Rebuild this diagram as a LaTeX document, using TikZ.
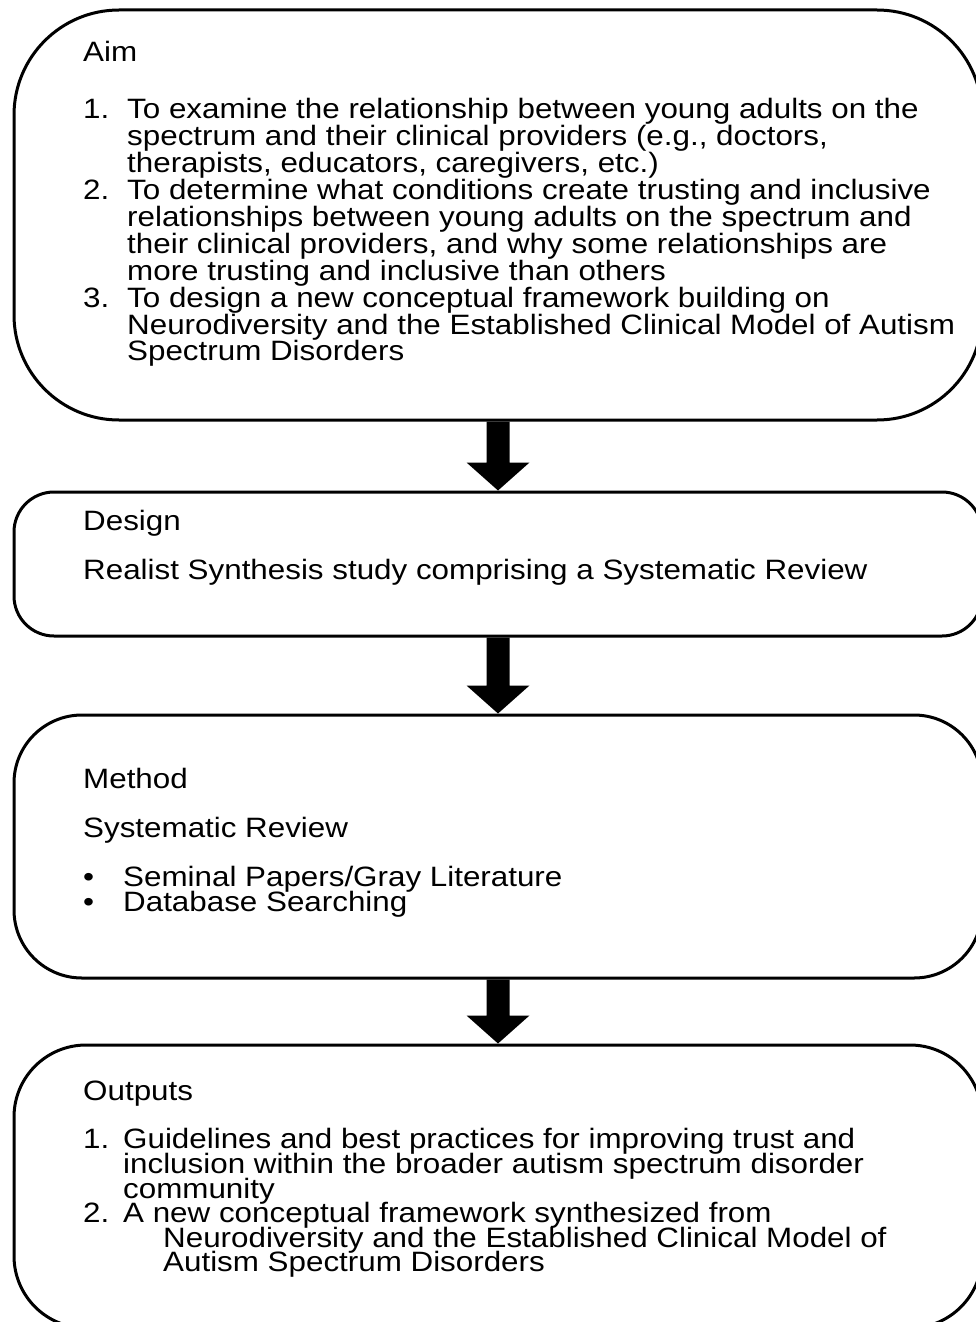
\documentclass[tikz,border=0pt]{standalone}
\usepackage{fontspec}
\setmainfont{Liberation Sans}[FakeStretch=1.12]
\usetikzlibrary{calc}
\begin{document}
\begin{tikzpicture}[x=1pt,y=-1pt,
  box/.style={draw=black, line width=3pt, minimum width=968pt, inner sep=0pt},
  txt/.style={anchor=base west, inner sep=0pt, font=\fontsize{28}{28}\selectfont},
  blockarrow/.style={fill=black}]
\useasboundingbox (0,0) rectangle (976,1322);
\clip (0,0) rectangle (976,1322);
\fill[white] (0,0) rectangle (976,1322);
% boxes
\node[box, rounded corners=105pt, minimum height=410pt] (b1) at (498,215) {};
\node[box, rounded corners=40pt, minimum height=144pt] (b2) at (498,564) {};
\node[box, rounded corners=68pt, minimum height=263pt] (b3) at (498,846.5) {};
\node[box, rounded corners=72pt, minimum height=283pt] (b4) at (498,1186.5) {};
% arrows
\foreach \a/\b in {b1/b2, b2/b3, b3/b4} {
  \fill[blockarrow] ($(\a.south)+(-11.5,0)$) -- ($(\b.north)+(-11.5,-28)$) -- ($(\b.north)+(-31.5,-28)$) -- (\b.north) -- ($(\b.north)+(31.5,-28)$) -- ($(\b.north)+(11.5,-28)$) -- ($(\a.south)+(11.5,0)$) -- cycle;
}
% box 1 text
\node[txt] (aim) at (83,62) {Aim};
\node[txt] (n1) at (83,118) {1.};
\node[txt] (a1a) at (127,118) {To examine the relationship between young adults on the};
\node[txt] (a1b) at (127,145) {spectrum and their clinical providers (e.g., doctors,};
\node[txt] (a1c) at (127,172) {therapists, educators, caregivers, etc.)};
\node[txt] (n2) at (83,199) {2.};
\node[txt] (a2a) at (127,199) {To determine what conditions create trusting and inclusive};
\node[txt] (a2b) at (127,226) {relationships between young adults on the spectrum and};
\node[txt] (a2c) at (127,253) {their clinical providers, and why some relationships are};
\node[txt] (a2d) at (127,280) {more trusting and inclusive than others};
\node[txt] (n3) at (83,307) {3.};
\node[txt] (a3a) at (127,307) {To design a new conceptual framework building on};
\node[txt] (a3b) at (127,334) {Neurodiversity and the Established Clinical Model of Autism};
\node[txt] (a3c) at (127,360) {Spectrum Disorders};
% box 2 text
\node[txt] (design) at (83,530) {Design};
\node[txt] (realist) at (83,579) {Realist Synthesis study comprising a Systematic Review};
% box 3 text
\node[txt] (method) at (83,788) {Method};
\node[txt] (sysrev) at (83,837) {Systematic Review};
\node[txt] (bu1) at (83,886) {•};
\node[txt] (m1) at (123,886) {Seminal Papers/Gray Literature};
\node[txt] (bu2) at (83,911) {•};
\node[txt] (m2) at (123,911) {Database Searching};
% box 4 text
\node[txt] (outputs) at (83,1100) {Outputs};
\node[txt] (o1) at (83,1148) {1.};
\node[txt] (o1a) at (123,1148) {Guidelines and best practices for improving trust and};
\node[txt] (o1b) at (123,1173) {inclusion within the broader autism spectrum disorder};
\node[txt] (o1c) at (123,1198) {community};
\node[txt] (o2) at (83,1222) {2.};
\node[txt] (o2a) at (123,1222) {A new conceptual framework synthesized from};
\node[txt] (o2b) at (163,1247) {Neurodiversity and the Established Clinical Model of};
\node[txt] (o2c) at (163,1271) {Autism Spectrum Disorders};
\end{tikzpicture}
\end{document}
